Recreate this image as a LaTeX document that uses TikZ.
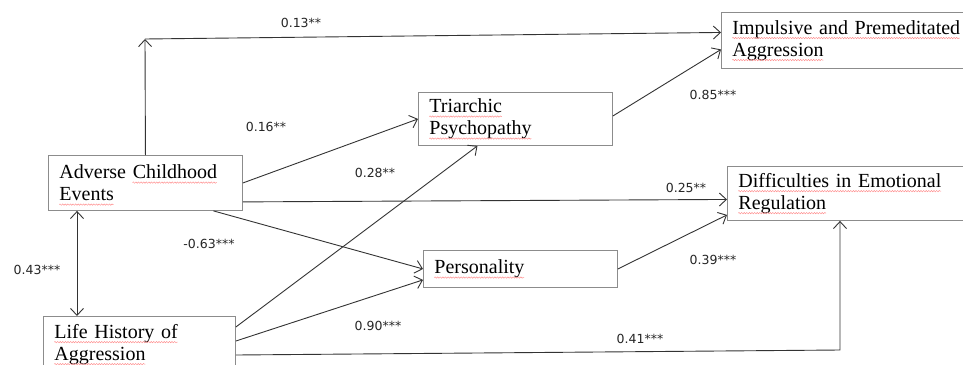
\documentclass[tikz,border=0pt]{standalone}
\usepackage{fontspec}
\setmainfont{Liberation Serif}
\newfontfamily\lblfont{DejaVu Sans}
\usepackage{xcolor}
\usetikzlibrary{positioning,arrows.meta,calc,decorations.pathmorphing}

% wavy spell-check underline
\newsavebox\typobox
\newcommand\typo[1]{\sbox\typobox{#1}\usebox\typobox\smash{\llap{\tikz[baseline=0pt]\draw[red!45, line width=0.45pt, decorate, decoration={snake, amplitude=0.7pt, segment length=2.6pt}] (0pt,-3.8pt) -- (\the\wd\typobox,-3.8pt);}}}

\tikzset{
  box/.style={draw=black!45, line width=0.9pt, anchor=north west, align=left,
    inner xsep=11pt, inner ysep=0pt, font=\fontsize{20}{22}\selectfont},
  lbl/.style={font=\lblfont\fontsize{12.5}{14}\selectfont, text=black!85, inner sep=0pt},
  arr/.style={draw=black!80, line width=0.9pt, -{Straight Barb[length=7pt,width=13pt]}},
  darr/.style={arr, {Straight Barb[length=7pt,width=13pt]}-{Straight Barb[length=7pt,width=13pt]}},
}

\begin{document}
\begin{tikzpicture}[x=1pt,y=-1pt]
\useasboundingbox (0,0) rectangle (963,364);
\fill[white] (0,0) rectangle (963,364);
\clip (0,0) rectangle (963,364);

% Predictors
\node[box, text width=172pt, minimum height=55pt] (ace) at (48,155) {Adverse \typo{Childhood}\\\typo{Events}};
\node[box, text width=170pt, minimum height=56pt] (lha) at (43,316) {\typo{Life History of}\\\typo{Aggression}};

% Mediators
\node[box, text width=172pt, minimum height=53pt] (tp) at (418,92) {\typo{Triarchic}\\\typo{Psychopathy}};
\node[box, text width=172pt, minimum height=37pt] (pp) at (423,250) {\typo{Personality}};

% Outcomes
\node[box, text width=238pt, minimum height=56pt] (ipa) at (721,12) {\typo{Impulsive and Premeditated}\\\typo{Aggression}};
\node[box, text width=238pt, minimum height=54pt] (der) at (727,166) {\typo{Difficulties in Emotional}\\\typo{Regulation}};

% Paths
\coordinate (c13) at (145,39);
\draw[arr] (ace.north) -- (c13);
\draw[arr] (c13) -- ([yshift=8pt]ipa.west);
\draw[arr] ([yshift=3pt]tp.east) -- ([yshift=-9pt]ipa.west);
\draw[arr] (ace.east) -- (tp.west);
\draw[arr] ([yshift=9pt]ace.south east) -- ([yshift=-6pt]der.west);
\draw[arr] ([xshift=68pt]ace.south) -- (pp.west);
\draw[arr] (pp.east) -- ([yshift=6pt]der.south west);
\coordinate (c43) at ([xshift=29pt]ace.south west);
\draw[darr] (c43) -- (c43 |- lha.north);
\draw[arr] ([yshift=-11pt]lha.north east) -- ([xshift=-38pt]tp.south);
\draw[arr] ([yshift=-25pt]lha.north east) -- ([yshift=8pt]pp.south west);
\coordinate (c41) at (840,350);
\draw[arr] ([yshift=-39pt]lha.north east) -- (c41) -- (c41 |- der.south);

% Coefficients
\node[lbl] (l13) at (301,23) {0.13**};
\node[lbl] (l16) at (266,127) {0.16**};
\node[lbl] (l28) at (375,173) {0.28**};
\node[lbl] (l85) at (713,95) {0.85***};
\node[lbl] (l25) at (686,188) {0.25**};
\node[lbl] (l39) at (713,260) {0.39***};
\node[lbl] (l41) at (640,339) {0.41***};
\node[lbl] (l63) at (209,244) {-0.63***};
\node[lbl] (l43) at (37,270) {0.43***};
\node[lbl] (l90) at (378,326) {0.90***};
\end{tikzpicture}
\end{document}
